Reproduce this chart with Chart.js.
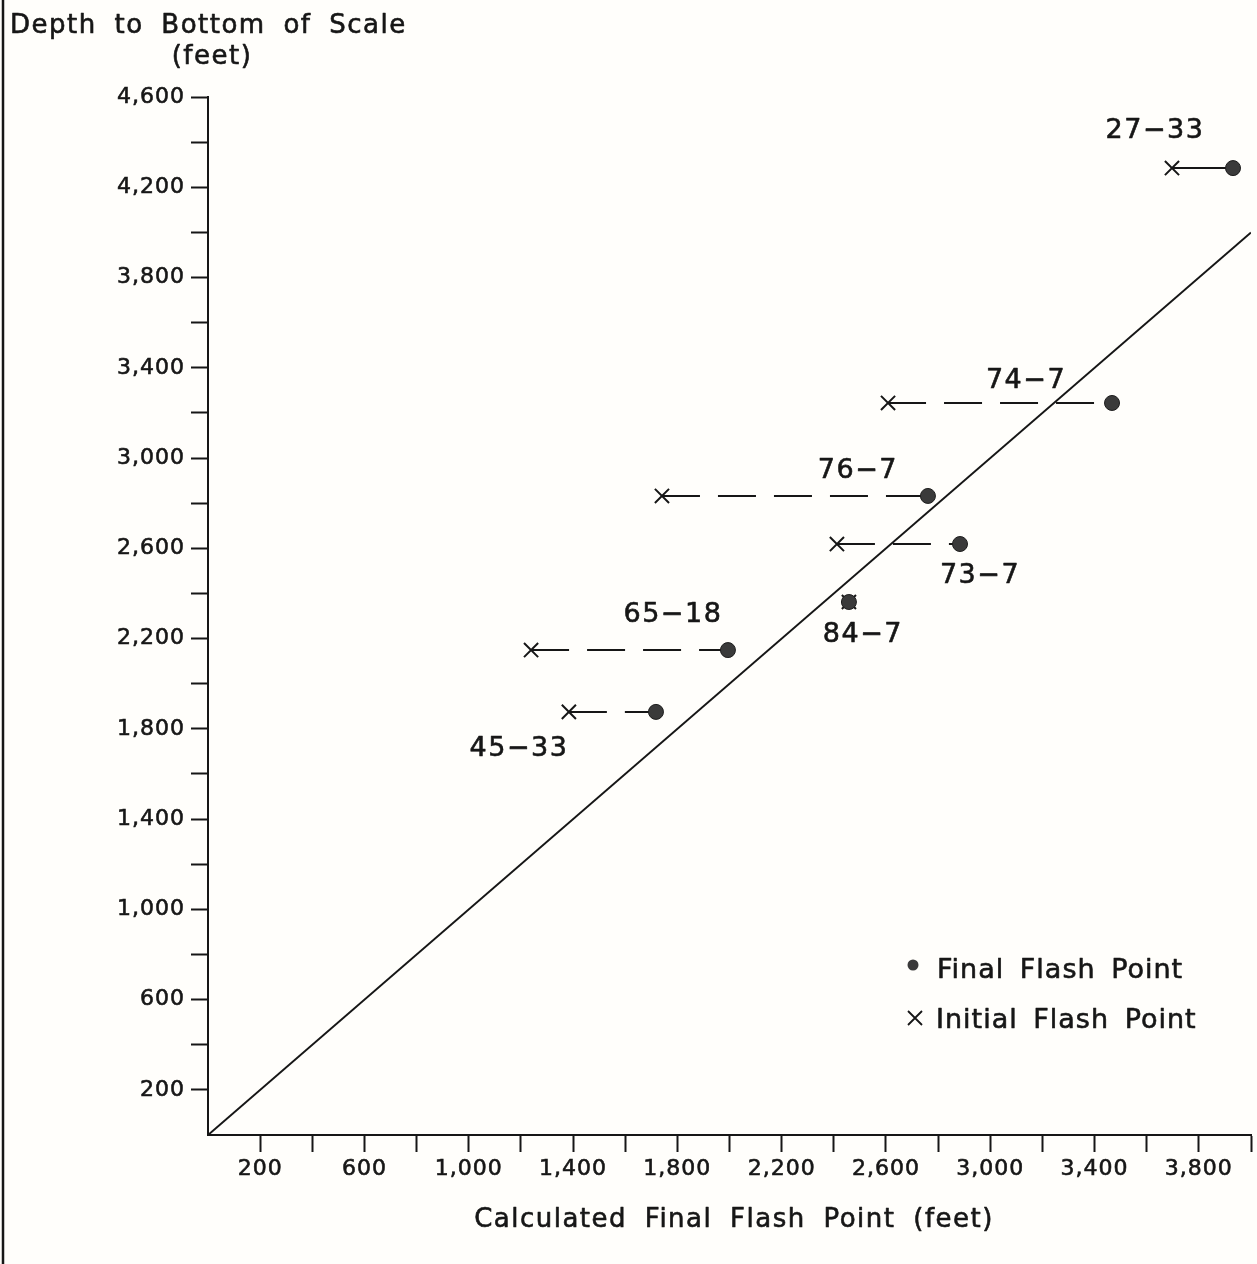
<!DOCTYPE html>
<html>
<head>
<meta charset="utf-8">
<script src="https://cdn.jsdelivr.net/npm/chart.js@4.4.1/dist/chart.umd.min.js"></script>
<style>
  html, body { margin: 0; padding: 0; background: #fffefb; }
  canvas { display: block; }
</style>
</head>
<body>
<canvas id="c" width="1257" height="1264"></canvas>
<script>
// ---- data ----
const wells        = ['27\u221233', '74\u22127', '76\u22127', '73\u22127', '84\u22127', '65\u221218', '45\u221233'];
const depth        = [4285, 3244, 2832, 2619, 2362, 2149, 1875];   // Depth to bottom of scale (ft)
const finalFlash   = [3931, 3467, 2761, 2884, 2458, 1994, 1718];   // Calculated final flash point (ft)
const initialFlash = [3697, 2608, 1741, 2412, 2458, 1239, 1384];   // Initial flash point (ft)
const solidLink    = [true, false, false, false, false, false, false];
const equalityLine = [0, 4000];
const xTickLabels  = [200, 600, 1000, 1400, 1800, 2200, 2600, 3000, 3400, 3800];
const yTickLabels  = [200, 600, 1000, 1400, 1800, 2200, 2600, 3000, 3400, 3800, 4200, 4600];

const INK = '#161616';
const FONT = '"DejaVu Sans", sans-serif';

const datasets = [];
wells.forEach((w, i) => {
  datasets.push({
    label: w,
    data: [{x: initialFlash[i], y: depth[i]}, {x: finalFlash[i], y: depth[i]}],
    showLine: true,
    borderColor: INK,
    borderWidth: 2,
    borderDash: solidLink[i] ? [] : [38, 18],
    pointRadius: 0,
    order: 5
  });
});
datasets.push({
  label: 'equality',
  data: equalityLine.map(v => ({x: v, y: v})),
  showLine: true,
  borderColor: INK,
  borderWidth: 2,
  pointRadius: 0,
  order: 6
});
datasets.push({
  label: 'Initial Flash Point',
  data: wells.map((w, i) => ({x: initialFlash[i], y: depth[i]})),
  showLine: false,
  pointStyle: 'crossRot',
  pointRadius: 10,
  pointBorderWidth: 2,
  pointBorderColor: INK,
  order: 2
});
datasets.push({
  label: 'Final Flash Point',
  data: wells.map((w, i) => ({x: finalFlash[i], y: depth[i]})),
  showLine: false,
  pointStyle: 'circle',
  pointRadius: 7.5,
  pointBackgroundColor: '#3a3a3a',
  pointBorderColor: '#1e1e1e',
  pointBorderWidth: 1,
  order: 1
});

// label offsets (pixels from the final point, label centre)
const labelOffsets = [[-78, -40], [-86, -25], [-70, -28], [20, 29], [14, 30], [-55, -38], [-137, 34]];

const fmt = v => v.toLocaleString('en-US');

function boldText(ctx, t, x, y, w) {
  ctx.lineWidth = w;
  ctx.strokeText(t, x, y);
  ctx.fillText(t, x, y);
}

const decor = {
  id: 'decor',
  beforeDraw(chart) {
    const ctx = chart.ctx;
    ctx.save();
    ctx.fillStyle = '#fffefb';
    ctx.fillRect(0, 0, chart.width, chart.height);
    ctx.restore();
    ctx.letterSpacing = '1px';
  },
  afterDraw(chart) {
    const ctx = chart.ctx;
    const xs = chart.scales.x, ys = chart.scales.y;
    ctx.save();
    ctx.fillStyle = INK;
    ctx.strokeStyle = INK;
    ctx.lineJoin = 'round';

    // page edge line at left
    ctx.lineWidth = 2.5;
    ctx.beginPath(); ctx.moveTo(3, 0); ctx.lineTo(3, chart.height); ctx.stroke();

    // y-axis title (horizontal, top-left)
    ctx.font = '26px ' + FONT;
    ctx.letterSpacing = '1.5px';
    ctx.wordSpacing = '8px';
    ctx.textBaseline = 'alphabetic';
    ctx.textAlign = 'left';
    boldText(ctx, 'Depth to Bottom of Scale', 10, 33, 0.6);
    ctx.textAlign = 'center';
    boldText(ctx, '(feet)', 212, 64, 0.6);

    // x-axis title
    boldText(ctx, 'Calculated Final Flash Point (feet)', 734, 1227, 0.6);

    // data labels
    ctx.font = '27px ' + FONT;
    ctx.letterSpacing = '1.5px';
    ctx.wordSpacing = '0px';
    wells.forEach((w, i) => {
      const px = xs.getPixelForValue(finalFlash[i]) + labelOffsets[i][0];
      const py = ys.getPixelForValue(depth[i]) + labelOffsets[i][1];
      boldText(ctx, w, px, py + 10, 0.6);
    });

    // legend
    ctx.font = '27px ' + FONT;
    ctx.letterSpacing = '1px';
    ctx.wordSpacing = '6px';
    ctx.textAlign = 'left';
    ctx.fillStyle = '#3a3a3a';
    ctx.beginPath(); ctx.arc(913, 965, 5.5, 0, Math.PI * 2); ctx.fill();
    ctx.fillStyle = INK;
    boldText(ctx, 'Final Flash Point', 937, 978, 0.6);
    ctx.lineWidth = 1.8;
    ctx.beginPath();
    ctx.moveTo(908, 1011); ctx.lineTo(922, 1025);
    ctx.moveTo(922, 1011); ctx.lineTo(908, 1025);
    ctx.stroke();
    boldText(ctx, 'Initial Flash Point', 936, 1028, 0.6);

    ctx.restore();
    ctx.letterSpacing = '0px';
    ctx.wordSpacing = '0px';
  }
};

function axisCommon(labels) {
  return {
    type: 'linear',
    min: 0,
    ticks: {
      stepSize: 200,
      autoSkip: false,
      maxRotation: 0,
      color: INK,
      textStrokeColor: INK,
      textStrokeWidth: 0.6,
      font: { family: FONT, size: 22 },
      callback: v => labels.includes(v) ? fmt(v) : ''
    },
    grid: {
      drawOnChartArea: false,
      drawTicks: true,
      tickLength: 17,
      tickWidth: 2,
      tickColor: c => (c.tick && c.tick.value === 0) ? 'rgba(0,0,0,0)' : INK
    },
    border: { display: true, color: INK, width: 2 }
  };
}

const xAxis = axisCommon(xTickLabels);
xAxis.max = 4000;
xAxis.ticks.padding = 4;
xAxis.afterFit = s => { s.height = 129; s.paddingRight = 0; s.paddingLeft = 0; };

const yAxis = axisCommon(yTickLabels);
yAxis.max = 4600;
yAxis.ticks.padding = 6;
yAxis.afterFit = s => { s.width = 208; s.paddingTop = 0; s.paddingBottom = 0; };

new Chart(document.getElementById('c'), {
  type: 'scatter',
  data: { datasets },
  options: {
    responsive: false,
    animation: false,
    devicePixelRatio: 1,
    layout: { autoPadding: false, padding: { left: 0, right: 6, top: 97, bottom: 0 } },
    plugins: {
      legend: { display: false },
      tooltip: { enabled: false },
      title: { display: false }
    },
    scales: { x: xAxis, y: yAxis }
  },
  plugins: [decor]
});
</script>
</body>
</html>
